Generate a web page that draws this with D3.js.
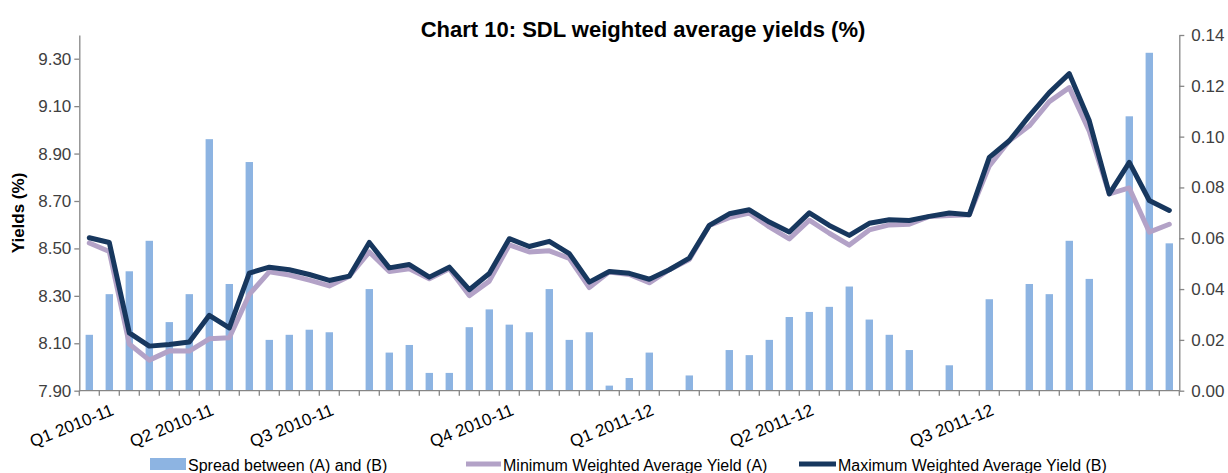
<!DOCTYPE html>
<html>
<head>
<meta charset="utf-8">
<script src="https://cdn.jsdelivr.net/npm/d3@7"></script>
<style>
  html, body { margin: 0; padding: 0; background: #fff; }
  svg { display: block; font-family: "Liberation Sans", Arial, sans-serif; }
</style>
</head>
<body>
<svg id="chart" width="1228" height="473"></svg>
<script>
// Auction-by-auction categories; only the first auction of each quarter is labelled.
const categories = [
  "Q1 2010-11", "", "", "", "", "Q2 2010-11", "", "", "", "", "",
  "Q3 2010-11", "", "", "", "", "", "", "", "",
  "Q4 2010-11", "", "", "", "", "", "",
  "Q1 2011-12", "", "", "", "", "", "", "",
  "Q2 2011-12", "", "", "", "", "", "", "", "",
  "Q3 2011-12", "", "", "", "", "", "", "", "", "", ""
];

// Spread between (A) and (B), right axis (%)
const spread = [
  0.022, 0.038, 0.047, 0.059, 0.027, 0.038, 0.099, 0.042, 0.090, 0.020,
  0.022, 0.024, 0.023, 0.000, 0.040, 0.015, 0.018, 0.007, 0.007, 0.025,
  0.032, 0.026, 0.023, 0.040, 0.020, 0.023, 0.002, 0.005, 0.015, 0.000,
  0.006, 0.000, 0.016, 0.014, 0.020, 0.029, 0.031, 0.033, 0.041, 0.028,
  0.022, 0.016, 0.000, 0.010, 0.000, 0.036, 0.000, 0.042, 0.038, 0.059,
  0.044, 0.000, 0.108, 0.133, 0.058
];

// Minimum weighted average yield (A), left axis (%)
const minYield = [
  8.523, 8.487, 8.097, 8.029, 8.068, 8.067, 8.119, 8.123, 8.306, 8.401,
  8.388, 8.366, 8.342, 8.383, 8.485, 8.403, 8.414, 8.372, 8.414, 8.301,
  8.362, 8.515, 8.485, 8.490, 8.458, 8.335, 8.401, 8.390, 8.355, 8.410,
  8.453, 8.597, 8.630, 8.649, 8.591, 8.540, 8.619, 8.564, 8.514, 8.578,
  8.599, 8.602, 8.635, 8.639, 8.642, 8.848, 8.954, 9.017, 9.119, 9.178,
  8.994, 8.730, 8.755, 8.569, 8.602
];

// Maximum weighted average yield (B), left axis (%)
const maxYield = [
  8.545, 8.525, 8.144, 8.088, 8.095, 8.105, 8.218, 8.165, 8.396, 8.421,
  8.410, 8.390, 8.365, 8.383, 8.525, 8.418, 8.432, 8.379, 8.421, 8.326,
  8.394, 8.541, 8.508, 8.530, 8.478, 8.358, 8.403, 8.395, 8.370, 8.410,
  8.459, 8.597, 8.646, 8.663, 8.611, 8.569, 8.650, 8.597, 8.555, 8.606,
  8.621, 8.618, 8.635, 8.649, 8.642, 8.884, 8.954, 9.059, 9.157, 9.237,
  9.038, 8.730, 8.863, 8.702, 8.660
];

const yieldTicks  = [7.90, 8.10, 8.30, 8.50, 8.70, 8.90, 9.10, 9.30];
const spreadTicks = [0.00, 0.02, 0.04, 0.06, 0.08, 0.10, 0.12, 0.14];

const colors = { bar: "#8db4e2", minLine: "#b3a2c7", maxLine: "#17375e", axis: "#868686", text: "#404040" };

const plot = { left: 79.3, right: 1179.3, top: 35, bottom: 390.7 };
const svg = d3.select("#chart");

const x = d3.scaleBand()
  .domain(d3.range(categories.length))
  .range([plot.left, plot.right])
  .paddingInner(0.63)
  .paddingOuter(0.315);

const yLeft  = d3.scaleLinear().domain([7.90, 9.40]).range([plot.bottom, plot.top]);
const yRight = d3.scaleLinear().domain([0, 0.14]).range([plot.bottom, plot.top]);

// Title
svg.append("text")
  .attr("x", 643).attr("y", 37)
  .attr("text-anchor", "middle")
  .attr("font-size", 22).attr("font-weight", "bold").attr("fill", "#000")
  .text("Chart 10: SDL weighted average yields (%)");

// Spread bars
svg.append("g").selectAll("rect")
  .data(spread)
  .join("rect")
  .attr("x", (d, i) => x(i))
  .attr("width", x.bandwidth())
  .attr("y", d => yRight(d))
  .attr("height", d => plot.bottom - yRight(d))
  .attr("fill", colors.bar);

// Yield lines
const lineOf = arr => d3.line()
  .x((d, i) => x(i) + x.bandwidth() / 2)
  .y(d => yLeft(d))(arr);

svg.append("path")
  .attr("d", lineOf(minYield))
  .attr("fill", "none").attr("stroke", colors.minLine)
  .attr("stroke-width", 5).attr("stroke-linejoin", "round").attr("stroke-linecap", "round");

svg.append("path")
  .attr("d", lineOf(maxYield))
  .attr("fill", "none").attr("stroke", colors.maxLine)
  .attr("stroke-width", 5).attr("stroke-linejoin", "round").attr("stroke-linecap", "round");

// Axes
function styleAxis(g) {
  g.selectAll(".domain").attr("stroke", colors.axis).attr("stroke-width", 1.3);
  g.selectAll(".tick line").attr("stroke", colors.axis).attr("stroke-width", 1.3);
  g.selectAll(".tick text").attr("fill", colors.text).attr("font-size", 17)
    .attr("font-family", "'Liberation Sans', Arial, sans-serif");
}

svg.append("g")
  .attr("transform", `translate(${plot.left},0)`)
  .call(d3.axisLeft(yLeft).tickValues(yieldTicks).tickFormat(d3.format(".2f"))
    .tickSize(5).tickSizeOuter(0).tickPadding(3))
  .call(styleAxis);

svg.append("g")
  .attr("transform", `translate(${plot.right},0)`)
  .call(d3.axisRight(yRight).tickValues(spreadTicks).tickFormat(d3.format(".2f"))
    .tickSize(5).tickSizeOuter(0).tickPadding(7))
  .call(styleAxis);

// Category axis: baseline, boundary ticks and quarter labels
const gx = svg.append("g");
gx.append("line")
  .attr("x1", plot.left).attr("x2", plot.right)
  .attr("y1", plot.bottom).attr("y2", plot.bottom)
  .attr("stroke", colors.axis).attr("stroke-width", 1.3);

const gap = (x.step() - x.bandwidth()) / 2;
gx.selectAll("line.boundary")
  .data(d3.range(categories.length + 1))
  .join("line")
  .attr("class", "boundary")
  .attr("x1", i => i < categories.length ? x(i) - gap : x(i - 1) + x.bandwidth() + gap)
  .attr("x2", i => i < categories.length ? x(i) - gap : x(i - 1) + x.bandwidth() + gap)
  .attr("y1", plot.bottom).attr("y2", plot.bottom + 5)
  .attr("stroke", colors.axis).attr("stroke-width", 1.3);

gx.selectAll("text")
  .data(categories.map((c, i) => ({ c, i })).filter(d => d.c !== ""))
  .join("text")
  .attr("transform", d => `translate(${x(d.i) + x.bandwidth() / 2 + 21},403) rotate(-22)`)
  .attr("text-anchor", "end")
  .attr("dy", "0.72em")
  .attr("font-size", 17).attr("fill", "#000")
  .text(d => d.c);

// Y-axis title
svg.append("text")
  .attr("transform", "translate(24,213) rotate(-90)")
  .attr("text-anchor", "middle")
  .attr("font-size", 17).attr("font-weight", "bold").attr("fill", "#000")
  .text("Yields (%)");

// Legend
const legend = svg.append("g").attr("font-size", 16).attr("fill", "#000");
legend.append("rect").attr("x", 150).attr("y", 458).attr("width", 36).attr("height", 12).attr("fill", colors.bar);
legend.append("text").attr("x", 188).attr("y", 471).text("Spread between (A) and (B)");
legend.append("line").attr("x1", 466).attr("x2", 501).attr("y1", 464).attr("y2", 464)
  .attr("stroke", colors.minLine).attr("stroke-width", 5);
legend.append("text").attr("x", 503).attr("y", 471).text("Minimum Weighted Average Yield (A)");
legend.append("line").attr("x1", 799).attr("x2", 836).attr("y1", 464).attr("y2", 464)
  .attr("stroke", colors.maxLine).attr("stroke-width", 5);
legend.append("text").attr("x", 838).attr("y", 471).text("Maximum Weighted Average Yield (B)");
</script>
</body>
</html>
